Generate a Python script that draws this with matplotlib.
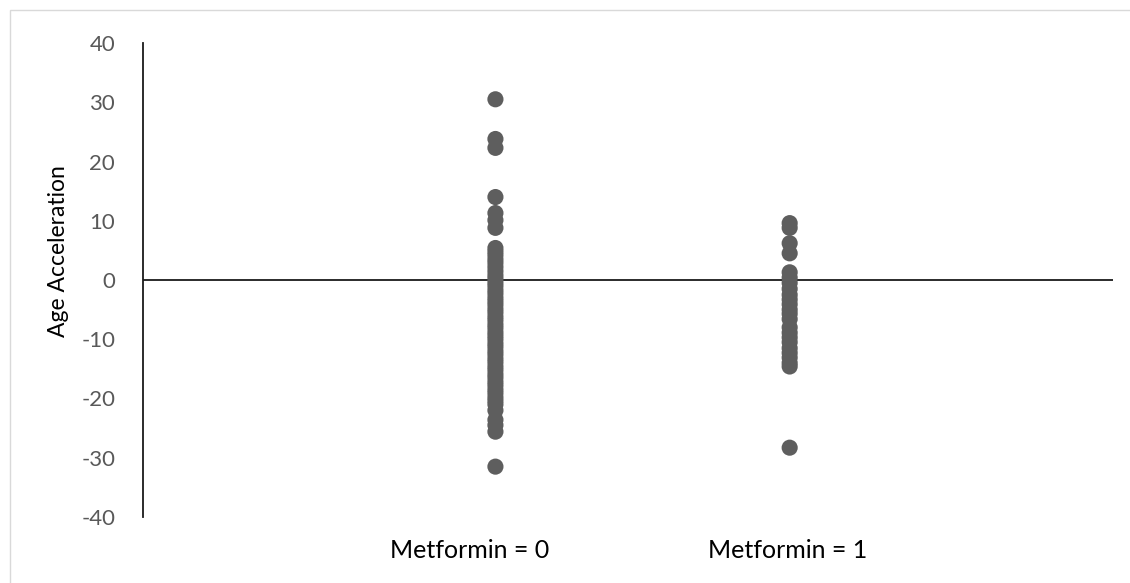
import matplotlib.pyplot as plt
from matplotlib.patches import Rectangle

plt.rcParams['font.family'] = ['Lato', 'DejaVu Sans']
plt.rcParams['axes.unicode_minus'] = False

# group labels and positions on the x scale
groups = ['Metformin = 0', 'Metformin = 1']
group_x = [1.09, 2.0]
label_x = [1.01, 1.995]

# age acceleration values
metformin_0 = [30.5, 23.8, 22.3, 14.0, 11.3, 10.1, 8.8,
               5.4, 4.8, 4.2, 3.5, 2.9, 2.2, 1.5, 0.8, 0.2, -0.4,
               -1.0, -1.7, -2.3, -3.0, -3.6, -4.2, -4.9, -5.5, -6.2,
               -6.8, -7.5, -8.1, -8.8, -9.4, -10.0, -10.7, -11.3, -12.0,
               -12.6, -13.3, -13.9, -14.6, -15.2, -15.9, -16.5, -17.2,
               -17.8, -18.5, -19.1, -19.8, -20.4, -21.0, -22.0, -23.6,
               -24.5, -25.6, -31.5]
metformin_1 = [9.6, 8.8, 6.2, 4.5, 1.3, 0.4, -0.5, -1.5, -2.5, -3.3,
               -4.1, -5.0, -5.7, -6.6, -8.0, -8.9, -9.7, -10.5, -11.5,
               -12.3, -13.1, -14.0, -14.6, -28.3]

series = [metformin_0, metformin_1]

fig = plt.figure(figsize=(11.3, 5.83), dpi=100)
ax = fig.add_axes([143 / 1130, 1 - 517 / 583, 970 / 1130, 474 / 583])

# chart area border (only top/left visible in the crop)
fig.patches.append(Rectangle((10 / 1130, -0.1), 1.2, 1 - 10 / 583 + 0.1,
                             transform=fig.transFigure, fill=False,
                             edgecolor='#d9d9d9', linewidth=1.0))

for xpos, vals in zip(group_x, series):
    ax.scatter([xpos] * len(vals), vals, s=135, color='#5e5e5e',
               edgecolors='none', zorder=3)

ax.set_xlim(0, 3)
ax.set_ylim(-40, 40)
ax.set_yticks(range(-40, 41, 10))
ax.tick_params(axis='y', length=0, pad=20, labelsize=16, labelcolor='#595959')
ax.set_xticks([])

for lx, name in zip(label_x, groups):
    ax.text(lx, -45.6, name, ha='center', va='center', fontsize=18, color='black')

for side in ['top', 'right', 'bottom']:
    ax.spines[side].set_visible(False)
ax.spines['left'].set_color('#1a1a1a')
ax.spines['left'].set_linewidth(1.3)
ax.axhline(0, color='#1a1a1a', linewidth=1.3, zorder=2)

ax.set_ylabel('Age Acceleration', fontsize=16.5, color='black')
ax.yaxis.set_label_coords(-0.076, 0.56)

fig.savefig('out.png', dpi=100)
